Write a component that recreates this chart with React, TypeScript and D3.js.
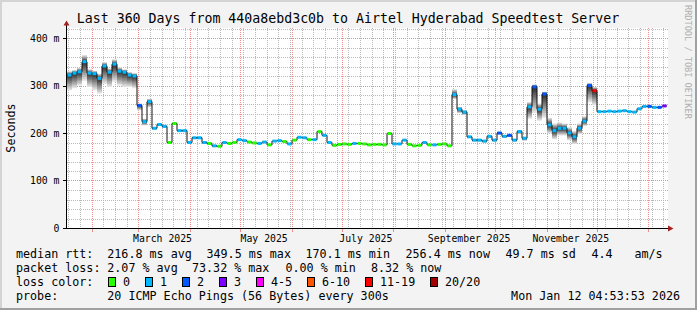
import React from "react";
import * as d3 from "d3";

// ---- data ----
const median = [
  322, 326, 329, 350, 326, 325, 315, 341, 328, 345,
  330, 328, 322, 320, 258, 224, 266, 210, 218, 214,
  180, 220, 205, 205, 180, 190, 190, 180, 178, 173,
  172, 180, 178, 180, 186, 184, 181, 179, 178, 181,
  175, 183, 184, 182, 177, 185, 191, 190, 186, 186,
  203, 195, 180, 174, 176, 177, 176, 178, 178, 177,
  175, 176, 176, 175, 199, 177, 177, 185, 176, 173,
  174, 180, 175, 175, 176, 177, 173, 281, 250, 244,
  192, 185, 185, 183, 193, 185, 200, 193, 195, 185,
  203, 189, 255, 297, 250, 282, 217, 205, 210, 210,
  200, 192, 210, 225, 300, 289, 245, 245, 246, 245,
  246, 247, 245, 244, 251, 256, 256, 254, 254, 257,
];
const smokeAbove = [
  8, 6, 8, 14, 8, 6, 10, 8, 8, 10,
  8, 6, 6, 6, 4, 6, 6, 2, 2, 2,
  2, 2, 2, 2, 2, 2, 2, 2, 2, 2,
  0, 0, 0, 0, 0, 0, 0, 0, 0, 0,
  0, 0, 0, 0, 0, 0, 0, 0, 0, 0,
  0, 0, 0, 0, 0, 0, 0, 0, 0, 0,
  0, 0, 0, 0, 0, 0, 0, 0, 0, 0,
  0, 0, 0, 0, 0, 0, 0, 11, 5, 4,
  2, 2, 2, 2, 2, 2, 2, 2, 2, 2,
  3, 3, 10, 5, 12, 5, 15, 15, 12, 10,
  12, 12, 10, 10, 5, 8, 0, 0, 0, 0,
  0, 0, 0, 0, 0, 0, 0, 0, 0, 0,
];
const smokeBelow = [
  32, 32, 29, 40, 29, 35, 32, 38, 31, 37,
  30, 31, 25, 26, 10, 8, 12, 3, 3, 3,
  3, 3, 3, 3, 3, 3, 3, 3, 3, 3,
  0, 0, 0, 0, 0, 0, 0, 0, 0, 0,
  0, 0, 0, 0, 0, 0, 0, 0, 0, 0,
  0, 0, 0, 0, 0, 0, 0, 0, 0, 0,
  0, 0, 0, 0, 0, 0, 0, 0, 0, 0,
  0, 0, 0, 0, 0, 0, 0, 10, 8, 6,
  3, 3, 3, 3, 3, 3, 3, 3, 3, 3,
  5, 5, 25, 55, 24, 50, 18, 18, 15, 15,
  15, 15, 12, 10, 35, 30, 0, 0, 0, 0,
  0, 0, 0, 0, 0, 0, 0, 0, 0, 0,
];
const lossIdx = [
  1, 1, 1, 1, 1, 1, 1, 1, 1, 1,
  1, 1, 1, 1, 2, 1, 1, 1, 1, 1,
  0, 0, 1, 1, 1, 1, 1, 1, 0, 1,
  0, 1, 0, 0, 1, 1, 0, 0, 1, 1,
  0, 1, 1, 0, 1, 0, 1, 1, 0, 1,
  0, 1, 1, 0, 0, 0, 0, 1, 0, 0,
  0, 0, 0, 0, 0, 1, 1, 1, 0, 0,
  0, 1, 0, 1, 0, 0, 0, 1, 1, 1,
  1, 1, 1, 1, 1, 1, 2, 1, 2, 1,
  1, 1, 1, 2, 1, 2, 1, 1, 1, 1,
  1, 1, 1, 1, 2, 6, 1, 1, 1, 1,
  1, 1, 1, 1, 1, 1, 2, 1, 2, 3,
];
const lossLabels = ["0", "1", "2", "3", "4-5", "6-10", "11-19", "20/20"];
const lossColors = ["#26ff00", "#00b8ff", "#0059ff", "#7e00ff", "#ff00ff", "#ff5500", "#ff0000", "#a10000"];
const yTickValues = [0, 100, 200, 300, 400];
const yTickLabels = ["0", "100 m", "200 m", "300 m", "400 m"];
const xLabels = ["March 2025", "May 2025", "July 2025", "September 2025", "November 2025"];
const xLabelMonths = [2, 4, 6, 8, 10]; // month index in 2025
const rttTexts = ["median rtt:", "216.8 ms avg", "349.5 ms max", "170.1 ms min", "256.4 ms now", "49.7 ms sd", "4.4", "am/s"];
const lossTexts = ["packet loss:", "2.07 % avg", "73.32 % max", "0.00 % min", "8.32 % now"];
const probeTexts = ["probe:", "20 ICMP Echo Pings (56 Bytes) every 300s"];
const title = "Last 360 Days from 440a8ebd3c0b to Airtel Hyderabad Speedtest Server";
const stamp = "Mon Jan 12 04:53:53 2026";
const yAxisTitle = "Seconds";
const watermark = "RRDTOOL / TOBI OETIKER";

// ---- layout ----
const W = 697, H = 310;
const DAY = 86400000;
const END = new Date(2026, 0, 12, 4, 53, 53);
const START = new Date(END.getTime() - 360 * DAY);
const PL = 67, PR = 667, PB = 228, PT = 28.5;
const MONO = "'DejaVu Sans Mono', monospace";
const FS = 11.7;
const rttX = [16, 107.3, 206.5, 305.5, 405.5, 505.5, 591.5, 634.5];
const lossX = [16, 107.3, 192, 285.5, 371];
const probeX = [16, 107.3];

export default function App() {
  const x = d3.scaleTime().domain([START, END]).range([PL, PR]);
  const y = d3.scaleLinear().domain([0, 420]).range([PB, PT]);
  const n = median.length;
  const step = (END.getTime() - START.getTime()) / n;
  const pts = median.map((v, i) => ({ d: new Date(START.getTime() + i * step), v, a: smokeAbove[i], b: smokeBelow[i], l: lossIdx[i] }));
  const ptsEnd = [...pts, { ...pts[n - 1], d: END }];

  const minorY = d3.range(20, 421, 20).filter((v) => v % 100 !== 0);
  const majorY = yTickValues.filter((v) => v > 0);
  const weeks = d3.timeSaturday.range(START, END);
  const months = d3.timeMonth.range(START, END);
  const px = (d: Date) => Math.round(x(d)) + 0.5;

  const N = 10;
  const bands = d3.range(N, 0, -1).map((k) => {
    const t = (k - 1) / (N - 1);
    const g = Math.round(0x30 + t * (0xe2 - 0x30));
    const area = d3
      .area<any>()
      .curve(d3.curveStepAfter)
      .x((p) => x(p.d))
      .y0((p) => y(p.v - (p.b * k) / N))
      .y1((p) => y(p.v + (p.a * k) / N));
    return { path: area(ptsEnd) || "", color: `rgb(${g},${g},${g})` };
  });
  const medLine = d3
    .line<any>()
    .curve(d3.curveStepAfter)
    .x((p) => x(p.d))
    .y((p) => y(p.v))(ptsEnd) || "";

  let bx = 108;
  const boxes = lossLabels.map((lab, i) => {
    const o = { x: bx, lab, c: lossColors[i] };
    bx += 15 + 7 * lab.length + 15;
    return o;
  });

  const txt = (key: string, s: string, tx: number, ty: number, anchor = "start") => (
    <text key={key} x={tx} y={ty} textAnchor={anchor} fontFamily={MONO} fontSize={FS} fill="#000">
      {s}
    </text>
  );

  return (
    <svg width={W} height={H} style={{ position: "absolute", left: 0, top: 0, display: "block" }} xmlns="http://www.w3.org/2000/svg">
      <rect x={0} y={0} width={W} height={H} fill="#f3f3f3" />
      <rect x={0} y={0} width={W} height={2} fill="#d4d4d4" />
      <rect x={0} y={0} width={2} height={H} fill="#d4d4d4" />
      <rect x={W - 2} y={0} width={2} height={H} fill="#a0a0a0" />
      <rect x={0} y={H - 2} width={W} height={2} fill="#a0a0a0" />
      <rect x={PL} y={28} width={601} height={200} fill="#ffffff" />

      <g shapeRendering="crispEdges" strokeWidth={1}>
        {minorY.map((v) => (
          <line key={"my" + v} x1={PL} x2={668} y1={Math.round(y(v)) + 0.5} y2={Math.round(y(v)) + 0.5} stroke="#b8b8b8" strokeDasharray="1 1" />
        ))}
        {weeks.map((d, i) => (
          <line key={"wk" + i} x1={px(d)} x2={px(d)} y1={28} y2={PB} stroke="#b8b8b8" strokeDasharray="1 1" />
        ))}
        {majorY.map((v) => (
          <line key={"My" + v} x1={PL} x2={668} y1={Math.round(y(v)) + 0.5} y2={Math.round(y(v)) + 0.5} stroke="#f08c8c" strokeDasharray="1 1" />
        ))}
        {months.map((d, i) => (
          <line key={"mo" + i} x1={px(d)} x2={px(d)} y1={28} y2={PB} stroke="#f08c8c" strokeDasharray="1 1" />
        ))}
      </g>

      {bands.map((b, i) => (
        <path key={"band" + i} d={b.path} fill={b.color} stroke="none" />
      ))}
      <path d={medLine} fill="none" stroke="#111" strokeWidth={1} />
      {pts.map((p, i) => (
        <line key={"seg" + i} x1={x(p.d) + 0.5} x2={x(ptsEnd[i + 1].d) - 0.5} y1={y(p.v)} y2={y(p.v)} stroke={lossColors[p.l]} strokeWidth={3} />
      ))}

      {/* axes */}
      <g shapeRendering="crispEdges">
        <line x1={66.5} x2={66.5} y1={25} y2={229} stroke="#000" />
        <line x1={63} x2={669} y1={228.5} y2={228.5} stroke="#000" />
        {yTickValues.map((v) => (
          <line key={"yt" + v} x1={63} x2={66} y1={Math.round(y(v)) + 0.5} y2={Math.round(y(v)) + 0.5} stroke="#000" />
        ))}
        {months.map((d, i) => (
          <line key={"xt" + i} x1={px(d)} x2={px(d)} y1={229} y2={232} stroke="#f08c8c" />
        ))}
      </g>
      <polygon points="63.5,25.5 66.5,20.5 69.5,25.5" fill="#a52020" />
      <polygon points="668,225.5 673.5,228.5 668,231.5" fill="#a52020" />

      {yTickValues.map((v, i) => (
        <text key={"yl" + v} x={59.5} y={y(v) + 3.5} textAnchor="end" fontFamily={MONO} fontSize={9.8} fill="#000">
          {yTickLabels[i]}
        </text>
      ))}
      {xLabels.map((lab, i) => {
        const d = new Date(new Date(2025, xLabelMonths[i], 1).getTime() + 14.5 * DAY);
        return (
          <text key={"xl" + i} x={x(d)} y={241.5} textAnchor="middle" fontFamily={MONO} fontSize={9.8} fill="#000">
            {lab}
          </text>
        );
      })}

      <text x={348} y={23} textAnchor="middle" fontFamily={MONO} fontSize={13.25} fill="#000">
        {title}
      </text>
      <text transform="translate(15,128) rotate(-90)" textAnchor="middle" fontFamily={MONO} fontSize={FS} fill="#000">
        {yAxisTitle}
      </text>
      <text transform="translate(684.5,5) rotate(90)" textAnchor="start" fontFamily={MONO} fontSize={8.6} fill="#b0b0b0">
        {watermark}
      </text>

      {rttTexts.map((t, i) => txt("r" + i, t, rttX[i], 258))}
      {lossTexts.map((t, i) => txt("l" + i, t, lossX[i], 272))}
      {txt("lc", "loss color:", 16, 286)}
      {boxes.map((b, i) => (
        <g key={"bx" + i}>
          <rect x={b.x + 0.5} y={277.5} width={7} height={9} fill={b.c} stroke="#000" shapeRendering="crispEdges" />
          {txt("bt" + i, b.lab, b.x + 15, 286)}
        </g>
      ))}
      {probeTexts.map((t, i) => txt("p" + i, t, probeX[i], 300))}
      {txt("st", stamp, 680, 300, "end")}
    </svg>
  );
}
